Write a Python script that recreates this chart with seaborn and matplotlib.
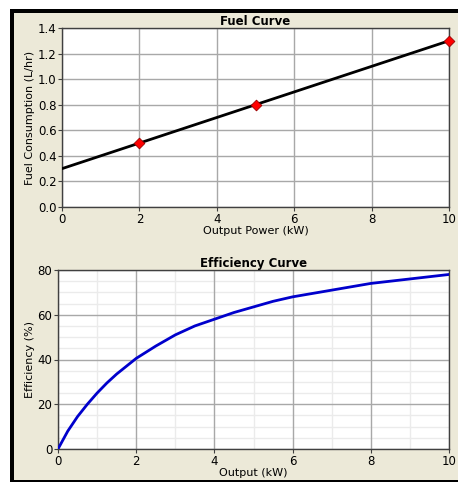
import numpy as np
import matplotlib
matplotlib.use("Agg")
import matplotlib.pyplot as plt
from matplotlib.patches import Rectangle
from matplotlib.ticker import MultipleLocator
import seaborn as sns

# fuel curve data
fuel_x = [0, 2, 5, 10]
fuel_y = [0.3, 0.5, 0.8, 1.3]
fuel_pts_x = [2, 5, 10]
fuel_pts_y = [0.5, 0.8, 1.3]

# efficiency curve
eff_x = [0, 0.25, 0.5, 0.75, 1, 1.25, 1.5, 1.75, 2, 2.5, 3, 3.5, 4, 4.5, 5, 5.5, 6, 7, 8, 9, 10]
eff_y = [0, 8, 14.5, 20, 25, 29.5, 33.5, 37, 40.5, 46, 51, 55, 58, 61, 63.5, 66, 68, 71, 74, 76, 78]

sns.set_style("white")
plt.rcParams['font.family'] = ['DejaVu Sans']
plt.rcParams['font.size'] = 8
plt.rcParams['text.color'] = 'black'
plt.rcParams['axes.labelcolor'] = 'black'
plt.rcParams['xtick.color'] = 'black'
plt.rcParams['ytick.color'] = 'black'

W, H = 458, 484
fig = plt.figure(figsize=(W / 100, H / 100), dpi=100)
fig.patch.set_facecolor("white")

def px(x0, y0, x1, y1):
    return (x0 / W, 1 - y1 / H), (x1 - x0) / W, (y1 - y0) / H

beige = "#ECE9D8"
for (x0, y0, x1, y1, c) in [(10, 9, 458, 482, beige), (10, 9, 458, 13, "black"),
                            (10, 9, 14, 482, "black"), (10, 480, 458, 482, "black")]:
    xy, w, h = px(x0, y0, x1, y1)
    fig.patches.append(Rectangle(xy, w, h, transform=fig.transFigure, color=c,
                                 zorder=-10, linewidth=0))

ax1 = fig.add_axes([62 / W, 1 - 207 / H, (449 - 62) / W, (207 - 28) / H], zorder=1)
ax2 = fig.add_axes([58 / W, 1 - 449 / H, (449 - 58) / W, (449 - 270) / H], zorder=1)

for ax in (ax1, ax2):
    ax.set_facecolor("white")
    for s in ax.spines.values():
        s.set_color("#404040")
        s.set_linewidth(1)
    ax.tick_params(axis="both", which="major", direction="out", length=3, width=0.8,
                   color="#404040", pad=1, labelsize=8.5, left=True, bottom=True)
    ax.set_xlim(0, 10)
    ax.xaxis.set_major_locator(MultipleLocator(2))
    ax.grid(True, which="major", color="#A8A8A8", linewidth=1)
    ax.set_axisbelow(True)

# Fuel curve
sns.lineplot(x=fuel_x, y=fuel_y, ax=ax1, color="black", linewidth=2, zorder=3)
sns.scatterplot(x=fuel_pts_x, y=fuel_pts_y, ax=ax1, marker="D", s=30, color="red",
                edgecolor="#990000", linewidth=0.6, zorder=4, clip_on=False)
ax1.set_ylim(0, 1.4)
ax1.set_yticks(np.arange(0, 1.41, 0.2))
ax1.set_yticklabels([f"{v:.1f}" for v in np.arange(0, 1.41, 0.2)])
ax1.set_title("Fuel Curve", fontsize=8.5, fontweight="bold", pad=2)
ax1.set_xlabel("Output Power (kW)", fontsize=8, labelpad=0)
ax1.set_ylabel("Fuel Consumption (L/hr)", fontsize=8, labelpad=2)

# Efficiency curve
sns.lineplot(x=eff_x, y=eff_y, ax=ax2, color="#0000CC", linewidth=2, zorder=3)
ax2.set_ylim(0, 80)
ax2.yaxis.set_major_locator(MultipleLocator(20))
# light minor grid, kept under the major grid
for v in range(1, 10):
    if v % 2:
        ax2.axvline(v, color="#EBEBEB", linewidth=1, zorder=0.1)
for v in range(5, 80, 5):
    if v % 20:
        ax2.axhline(v, color="#EBEBEB", linewidth=1, zorder=0.1)
ax2.set_title("Efficiency Curve", fontsize=8.5, fontweight="bold", pad=2)
ax2.set_xlabel("Output (kW)", fontsize=8, labelpad=0)
ax2.set_ylabel("Efficiency (%)", fontsize=8, labelpad=2)

fig.savefig("out.png", dpi=100, facecolor=fig.get_facecolor())
